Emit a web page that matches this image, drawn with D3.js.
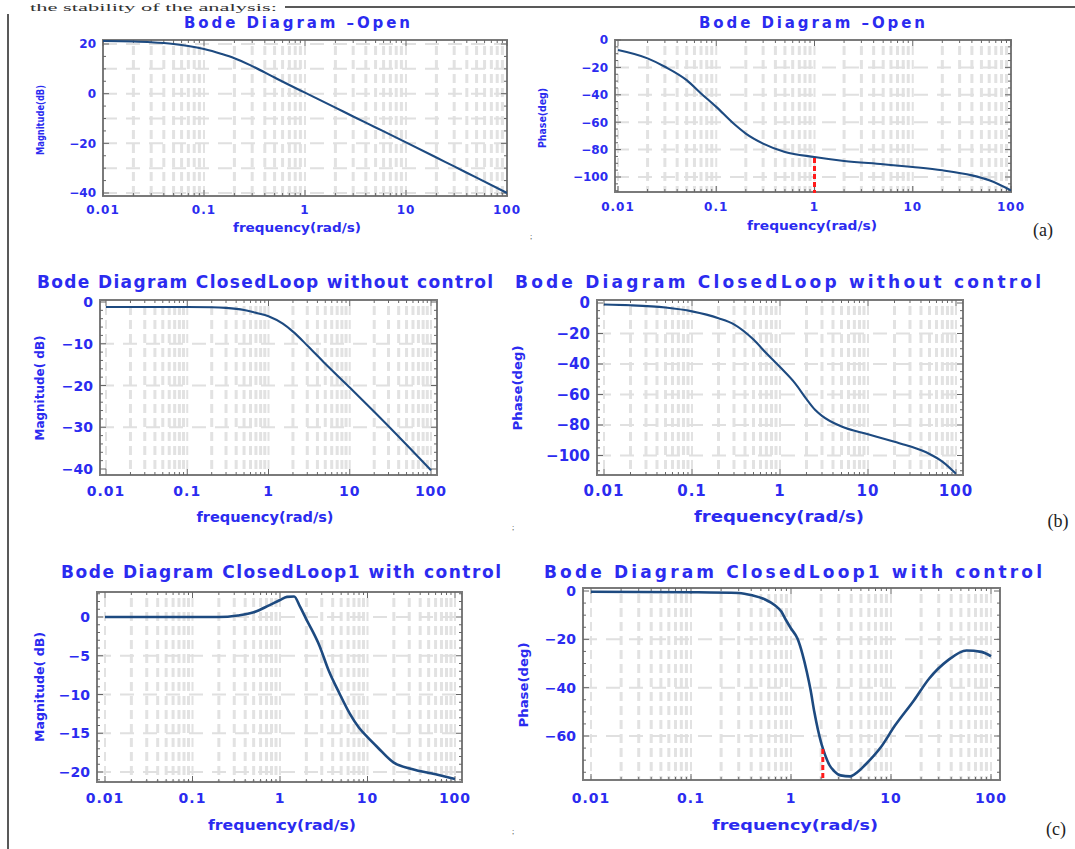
<!DOCTYPE html>
<html>
<head>
<meta charset="utf-8">
<script src="https://cdn.jsdelivr.net/npm/d3@7"></script>
<style>
  html, body { margin: 0; padding: 0; background: #fff; }
  svg { display: block; }
  text { font-family: "DejaVu Sans", Verdana, sans-serif; }
</style>
</head>
<body>
<svg id="chart" width="1075" height="849"></svg>
<script>
// ---------- DATA ----------
const freqTicks = [0.01, 0.1, 1, 10, 100];
const freqTickLabels = ["0.01", "0.1", "1", "10", "100"];

// (a) open loop magnitude
const openMagFreq = [0.01, 0.02, 0.03, 0.05, 0.07, 0.1, 0.15, 0.2, 0.3, 0.5, 0.7, 1, 2, 3, 5, 10, 20, 30, 50, 100];
const openMagDb   = [21.2, 21.0, 20.7, 20.0, 19.2, 18.0, 16.0, 14.3, 11.1, 6.5, 3.5, 0.4, -5.6, -9.2, -13.6, -19.6, -25.7, -29.3, -33.8, -40.0];
const openMagTicks = [20, 0, -20, -40];

// (a) open loop phase
const openPhFreq = [0.01, 0.02, 0.03, 0.05, 0.07, 0.1, 0.15, 0.2, 0.3, 0.5, 1, 2, 5, 10, 20, 40, 60, 100];
const openPhDeg  = [-7.3, -13.4, -19.5, -29.3, -39, -48.8, -61, -68.3, -75.6, -81.7, -85.4, -88.3, -90.7, -92.7, -95.1, -98.8, -102.4, -109.8];
const openPhTicks = [0, -20, -40, -60, -80, -100];
const openPhMarkFreq = [1];

// (b) closed loop without control, magnitude
const clMagFreq = [0.01, 0.03, 0.1, 0.2, 0.3, 0.5, 0.7, 1, 1.5, 2, 3, 5, 10, 20, 50, 100];
const clMagDb   = [-1.2, -1.2, -1.2, -1.25, -1.4, -1.9, -2.6, -3.4, -5.2, -7.1, -10.4, -14.8, -20.5, -26.3, -34.2, -40.3];
const clMagTicks = [0, -10, -20, -30, -40];

// (b) closed loop without control, phase
const clPhFreq = [0.01, 0.02, 0.05, 0.1, 0.2, 0.3, 0.5, 0.7, 1, 1.5, 2, 2.5, 3, 5, 10, 20, 30, 50, 70, 100];
const clPhDeg  = [-1, -1.5, -3, -5.5, -10, -14, -24, -33, -42, -53, -63, -70, -74, -81, -86, -91, -94, -99, -104, -112];
const clPhTicks = [0, -20, -40, -60, -80, -100];

// (c) closed loop with control, magnitude
const ctMagFreq = [0.01, 0.1, 0.2, 0.33, 0.5, 0.75, 1, 1.2, 1.45, 1.7, 2, 2.3, 2.8, 3.6, 4.8, 6.3, 8, 10, 13, 20, 32, 60, 100];
const ctMagDb   = [0, 0, 0, 0.2, 0.6, 1.5, 2.2, 2.6, 2.65, 1.3, -0.3, -1.6, -3.6, -6.9, -9.9, -12.5, -14.3, -15.5, -16.8, -18.8, -19.6, -20.3, -20.9];
const ctMagTicks = [0, -5, -10, -15, -20];

// (c) closed loop with control, phase
const ctPhFreq = [0.01, 0.1, 0.3, 0.41, 0.55, 0.69, 0.8, 0.89, 1.0, 1.16, 1.3, 1.44, 1.57, 1.71, 1.85, 2.03, 2.2, 2.42, 2.7, 3.13, 3.9, 4.6, 5.5, 7.8, 11, 17, 24, 37, 57, 80, 100];
const ctPhDeg  = [-0.3, -0.5, -0.8, -1.8, -3.5, -5.9, -8.5, -12, -15.5, -19.7, -26, -33.5, -41, -50, -57, -63.7, -68, -72, -74.5, -76.3, -76.7, -75, -72, -65, -55.6, -45.2, -36.3, -28.7, -24.6, -25.2, -27];
const ctPhTicks = [0, -20, -40, -60];
const ctPhMarkFreq = [2.08];

// ---------- LAYOUT ----------
const BLUE = "#2b2bf0";
const CURVE = "#1d4a80";

const panels = [
  { fx: [103, 507], fy: [40, 196], xr: [103, 507], yref: [20, 44, -40, 193],
    freq: openMagFreq, vals: openMagDb, ticks: openMagTicks, grid: [20, 10, 0, -10, -20, -30, -40], minor: 5,
    title: "Bode Diagram \u2013Open", tx: 297, ty: 28, tlen: 226, tfs: 15,
    ylab: "Magnitude(dB)", ylx: 44, yly: 120, yllen: 70, ylfs: 10,
    xlab: "frequency(rad/s)", xlx: 297, xly: 232, xllen: 128, xlfs: 12, tickfs: 12, tickY: 214 },
  { fx: [615, 1011], fy: [40, 192], xr: [618, 1011], yref: [0, 40, -100, 177],
    freq: openPhFreq, vals: openPhDeg, ticks: openPhTicks, grid: [-20, -40, -60, -80, -100], minor: 5,
    marks: openPhMarkFreq,
    title: "Bode Diagram  \u2013Open", tx: 812, ty: 28, tlen: 226, tfs: 15,
    ylab: "Phase(deg)", ylx: 546, yly: 118, yllen: 60, ylfs: 10,
    xlab: "frequency(rad/s)", xlx: 812, xly: 230, xllen: 130, xlfs: 12, tickfs: 12, tickY: 211 },
  { fx: [100, 437], fy: [300, 475], xr: [106, 431], yref: [0, 302, -40, 469],
    freq: clMagFreq, vals: clMagDb, ticks: clMagTicks, grid: [-10, -20, -30], minor: 2,
    title: "Bode Diagram ClosedLoop  without control", tx: 265, ty: 288, tlen: 456, tfs: 17,
    ylab: "Magnitude( dB)", ylx: 44, yly: 388, yllen: 105, ylfs: 13,
    xlab: "frequency(rad/s)", xlx: 265, xly: 522, xllen: 137, xlfs: 14, tickfs: 14, tickY: 496 },
  { fx: [597, 963], fy: [300, 475], xr: [604, 956], yref: [0, 303, -100, 455.5],
    freq: clPhFreq, vals: clPhDeg, ticks: clPhTicks, grid: [-20, -40, -60, -80, -100], minor: 5,
    title: "Bode Diagram ClosedLoop  without control", tx: 778, ty: 288, tlen: 526, tfs: 17,
    ylab: "Phase(deg)", ylx: 522, yly: 388, yllen: 85, ylfs: 13,
    xlab: "frequency(rad/s)", xlx: 779, xly: 522, xllen: 170, xlfs: 15, tickfs: 15, tickY: 496 },
  { fx: [97, 462], fy: [592, 782], xr: [105, 455], yref: [0, 617, -20, 772],
    freq: ctMagFreq, vals: ctMagDb, ticks: ctMagTicks, grid: [0, -5, -10, -15, -20], minor: 1,
    title: "Bode Diagram ClosedLoop1  with control", tx: 281, ty: 578, tlen: 440, tfs: 17,
    ylab: "Magnitude( dB)", ylx: 44, yly: 687, yllen: 110, ylfs: 13,
    xlab: "frequency(rad/s)", xlx: 282, xly: 830, xllen: 148, xlfs: 14, tickfs: 14, tickY: 803 },
  { fx: [583, 1000], fy: [588, 780], xr: [591, 991], yref: [0, 591, -60, 736],
    freq: ctPhFreq, vals: ctPhDeg, ticks: ctPhTicks, grid: [-20, -40, -60], minor: 5,
    marks: ctPhMarkFreq,
    title: "Bode Diagram ClosedLoop1  with control", tx: 793, ty: 578, tlen: 498, tfs: 17,
    ylab: "Phase(deg)", ylx: 528, yly: 685, yllen: 85, ylfs: 13,
    xlab: "frequency(rad/s)", xlx: 795, xly: 830, xllen: 166, xlfs: 14, tickfs: 14, tickY: 803 }
];

const svg = d3.select("#chart");
const defs = svg.append("defs");

// page decorations
svg.append("text").attr("x", 30).attr("y", 11)
  .style("font-family", "'Liberation Serif', serif").style("font-weight", "normal")
  .attr("font-size", 11).attr("fill", "#333")
  .attr("textLength", 247).attr("lengthAdjust", "spacingAndGlyphs")
  .text("the stability of the analysis:");
svg.append("line").attr("x1", 285).attr("x2", 1075).attr("y1", 7).attr("y2", 7).attr("stroke", "#222").attr("stroke-width", 1.5);
svg.append("line").attr("x1", 8).attr("x2", 8).attr("y1", 14).attr("y2", 849).attr("stroke", "#222").attr("stroke-width", 1.5);

const sideLabels = [["(a)", 1043, 236], ["(b)", 1058, 527], ["(c)", 1056, 835]];
sideLabels.forEach(([t, x, y]) => svg.append("text").attr("x", x).attr("y", y).attr("text-anchor", "middle")
  .style("font-family", "'Liberation Serif', serif").style("font-weight", "normal")
  .attr("font-size", 18).attr("fill", "#222").text(t));
[[530, 239], [512, 530], [512, 834]].forEach(([x, y]) => svg.append("text").attr("x", x).attr("y", y)
  .style("font-family", "'Liberation Serif', serif").style("font-weight", "normal")
  .attr("font-size", 8).attr("fill", "#444").text(";"));

panels.forEach((p, i) => {
  const g = svg.append("g").style("font-weight", "bold");
  const x = d3.scaleLog().domain([0.01, 100]).range(p.xr);
  const y = d3.scaleLinear().domain([p.yref[0], p.yref[2]]).range([p.yref[1], p.yref[3]]);
  const [x0, x1] = p.fx, [y0, y1] = p.fy;

  defs.append("clipPath").attr("id", "clip" + i).append("rect")
    .attr("x", x0).attr("y", y0).attr("width", x1 - x0).attr("height", y1 - y0);

  const grid = g.append("g").attr("clip-path", `url(#clip${i})`);
  const minorF = [];
  for (let e = -2; e < 2; e++) for (let m = 1; m < 10; m++) minorF.push(m * Math.pow(10, e));
  minorF.push(100);
  grid.selectAll(".vg").data(minorF).join("line")
    .attr("x1", d => x(d)).attr("x2", d => x(d)).attr("y1", y0 + 6).attr("y2", y1)
    .attr("stroke", "#e2e2e2").attr("stroke-width", d => (Math.abs(Math.log10(d) % 1) < 1e-9 ? 2 : 3))
    .attr("stroke-dasharray", "9,5");
  grid.selectAll(".hg").data(p.grid).join("line")
    .attr("x1", x0).attr("x2", x1).attr("y1", d => y(d)).attr("y2", d => y(d))
    .attr("stroke", "#e0e0e0").attr("stroke-width", 2).attr("stroke-dasharray", "14,9");

  g.append("rect").attr("x", x0).attr("y", y0).attr("width", x1 - x0).attr("height", y1 - y0)
    .attr("fill", "none").attr("stroke", "#7a7a7a").attr("stroke-width", 2);

  const yDom = [y.invert(y1), y.invert(y0)];
  const yMinor = d3.range(Math.ceil(yDom[0] / p.minor) * p.minor, yDom[1] + 1e-9, p.minor);
  const ticksG = g.append("g").attr("stroke", "#666").attr("stroke-width", 1);
  yMinor.forEach(v => {
    const L = p.ticks.includes(v) ? 6 : 3;
    ticksG.append("line").attr("x1", x0).attr("x2", x0 + L).attr("y1", y(v)).attr("y2", y(v));
    ticksG.append("line").attr("x1", x1).attr("x2", x1 - L).attr("y1", y(v)).attr("y2", y(v));
  });
  minorF.forEach(f => {
    const L = freqTicks.includes(+f.toPrecision(6)) ? 6 : 3;
    ticksG.append("line").attr("x1", x(f)).attr("x2", x(f)).attr("y1", y1).attr("y2", y1 - L);
    ticksG.append("line").attr("x1", x(f)).attr("x2", x(f)).attr("y1", y0).attr("y2", y0 + L);
  });

  const pts = p.freq.map((f, k) => [f, p.vals[k]]);
  const line = d3.line().x(d => x(d[0])).y(d => y(d[1])).curve(d3.curveMonotoneX);
  g.append("path").attr("clip-path", `url(#clip${i})`).attr("d", line(pts))
    .attr("fill", "none").attr("stroke", CURVE).attr("stroke-width", i >= 4 ? 2.6 : 2.1);

  if (p.marks) {
    const interp = f => {
      const lf = Math.log10(f);
      for (let k = 0; k < p.freq.length - 1; k++) {
        const a = Math.log10(p.freq[k]), b = Math.log10(p.freq[k + 1]);
        if (lf >= a && lf <= b) return p.vals[k] + (p.vals[k + 1] - p.vals[k]) * (lf - a) / (b - a);
      }
      return p.vals[p.vals.length - 1];
    };
    p.marks.forEach(f => {
      g.append("line").attr("x1", x(f)).attr("x2", x(f)).attr("y1", y(interp(f)) + 1).attr("y2", y1 + 1)
        .attr("stroke", "#ff1a1a").attr("stroke-width", 3).attr("stroke-dasharray", "5,3");
    });
  }

  g.selectAll(".xt").data(freqTicks).join("text")
    .attr("x", d => x(d)).attr("y", p.tickY).attr("text-anchor", "middle")
    .attr("font-size", p.tickfs).attr("fill", BLUE).attr("letter-spacing", 1)
    .text((d, k) => freqTickLabels[k]);
  g.selectAll(".yt").data(p.ticks).join("text")
    .attr("x", x0 - 7).attr("y", d => y(d)).attr("dy", "0.36em").attr("text-anchor", "end")
    .attr("font-size", p.tickfs).attr("fill", BLUE)
    .text(d => (d < 0 ? "\u2212" + Math.abs(d) : String(d)));

  g.append("text").attr("x", p.tx).attr("y", p.ty).attr("text-anchor", "middle")
    .attr("font-size", p.tfs).attr("fill", BLUE)
    .attr("textLength", p.tlen).attr("lengthAdjust", "spacing").text(p.title);
  g.append("text").attr("x", p.xlx).attr("y", p.xly).attr("text-anchor", "middle")
    .attr("font-size", p.xlfs).attr("fill", BLUE)
    .attr("textLength", p.xllen).attr("lengthAdjust", "spacingAndGlyphs").text(p.xlab);
  g.append("text").attr("transform", `translate(${p.ylx},${p.yly}) rotate(-90)`)
    .attr("text-anchor", "middle").attr("font-size", p.ylfs).attr("fill", BLUE)
    .attr("textLength", p.yllen).attr("lengthAdjust", "spacingAndGlyphs").text(p.ylab);
});
</script>
</body>
</html>
